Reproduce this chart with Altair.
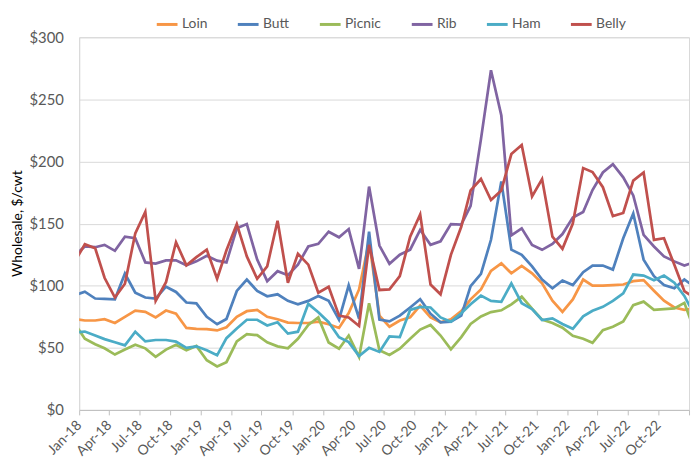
import altair as alt
import pandas as pd

# Monthly observations, Dec-17 .. Jan-23 (first and last are clipped at the axis ends)
months = (pd.date_range("2017-12-01", periods=62, freq="MS") + pd.Timedelta(days=17)).strftime("%Y-%m-%d").tolist()

series_names = ["Loin", "Butt", "Picnic", "Rib", "Ham", "Belly"]
series_colors = ["#F79646", "#4F81BD", "#9BBB59", "#8064A2", "#4BACC6", "#C0504D"]

loin = [73.4,
        72, 72, 73, 70, 75, 80, 79, 74.5, 80, 77.5,
        66, 65.3, 65, 64, 66.6, 75, 79.5, 80.5, 75, 73,
        70.3, 70, 70, 71, 69, 66, 78, 97, 136, 76,
        67, 72, 74.5, 84, 74.5, 70.6, 73, 79.5, 89, 97,
        112, 118, 110, 116, 110, 102, 88, 79, 89, 105,
        100, 100, 100.5, 101, 103.7, 104.5, 96, 88, 82.5, 80.6,
        81.5]
butt = [92.3,
        95.2, 89.7, 89.4, 89.1, 109.8, 94.4, 90.5, 89.7, 99.2, 95,
        86.5, 85.8, 75, 69, 73.2, 95.8, 105, 95.8, 91.5, 93.1,
        87.8, 85.1, 87.8, 91.8, 87.8, 72.7, 100.3, 73.5, 143.5, 72.7,
        71.3, 75.9, 82.5, 89.1, 77.5, 70.6, 71.1, 75.9, 99.7, 109.5,
        137, 184, 129, 124.9, 115.6, 105, 97.9, 104.2, 100.5, 110.9,
        116.2, 116.2, 113, 138.2, 158.1, 121, 107.7, 100.5, 97.9, 105,
        99]
picnic = [69.8,
          57.3, 52.9, 49.6, 44.6, 48.6, 52.5, 49.6, 42.7, 48.6, 52.5,
          48, 51.5, 40, 35, 38.5, 55.2, 61, 60.2, 54.4, 51.2,
          49.6, 57.3, 68.5, 74.5, 54.3, 49.3, 59.9, 42.7, 85.9, 48,
          44.3, 49.3, 57.3, 64.7, 68.4, 59.9, 48.8, 58.6, 69.2, 75.3,
          78.8, 80.2, 85, 91.2, 81.5, 72.7, 70, 66.2, 59.7, 57.3,
          54, 64.2, 67, 71.2, 84.4, 87.2, 80.6, 81.2, 81.7, 86.2,
          63.5]
rib = [124.3,
       131.6, 131, 132.9, 128.1, 139.5, 138.2, 118.8, 117.8, 120.4, 120.4,
       116.5, 119.6, 124.1, 120.2, 118.8, 146.2, 149.6, 121, 103.7, 111.7,
       108.5, 117, 131.6, 133.7, 143.5, 139, 145.6, 113.6, 179.8, 132.3,
       117.7, 125, 129, 145, 132.9, 135.8, 149.6, 149.3, 164.3, 218,
       273.5, 237, 140.5, 146.2, 132.9, 128.9, 133.7, 141.6, 154.9, 159.4,
       177, 191.2, 197.9, 187.3, 172.7, 140.9, 131.6, 123.6, 119.6, 116.2,
       119.2]
ham = [62.2,
       63.1, 59.9, 57, 54.5, 52, 63, 55.2, 56.3, 56.3, 55,
       50, 51.2, 48, 44, 57.8, 65.6, 72.6, 72.6, 68, 70.6,
       61.5, 63, 85.4, 78.7, 70.6, 58.6, 54.6, 43.3, 50, 46.7,
       59.2, 58.6, 80.5, 83, 82.5, 74.5, 71, 77.8, 85.1, 92,
       87.8, 87, 101.9, 85.9, 81.2, 72.4, 73.7, 69.2, 65.3, 75.3,
       79.8, 83, 87.8, 93.9, 109, 108.2, 104.5, 108.2, 102.4, 91.8,
       76]
belly = [119,
         133.4, 130.2, 106.4, 90.5, 101.6, 142.2, 159.4, 87.8, 102.9, 135,
         116.5, 123, 129, 105.6, 128.5, 149.6, 123.6, 105.6, 115.6, 152.3,
         102.4, 125.7, 117, 94.4, 99.2, 75.9, 74.5, 67.6, 132.9, 96.6,
         97.1, 107.7, 139.5, 157.3, 101, 93.1, 124.9, 147.5, 176.7, 185.9,
         169, 176.7, 206, 213.3, 171.9, 185.9, 139.5, 129.7, 150.1, 194.7,
         191.5, 179.3, 156, 158.6, 184.6, 191.2, 136.9, 138.2, 116.9, 95.7,
         90.2]

y_ticks = [0, 50, 100, 150, 200, 250, 300]

values = {"Loin": loin, "Butt": butt, "Picnic": picnic, "Rib": rib, "Ham": ham, "Belly": belly}
rows = []
for name in series_names:
    for d, v in zip(months, values[name]):
        rows.append({"date": d, "series": name, "value": v})
df = pd.DataFrame(rows)

def ms(s):
    return int(pd.Timestamp(s, tz="UTC").value // 10**6)

end_ms = ms("2023-01-01")
x_domain = [ms("2018-01-01"), end_ms]
tick_vals = [ms(d) for d in pd.date_range("2018-01-01", "2023-01-01", freq="3MS").strftime("%Y-%m-%d")]

FONT = "Lato"
GREY = "#595959"

chart = alt.Chart(df).mark_line(clip=True, strokeWidth=2.75).encode(
    x=alt.X("date:T",
            scale=alt.Scale(type="utc", domain=x_domain),
            axis=alt.Axis(values=tick_vals,
                          labelExpr=f"datum.value >= {end_ms} ? '' : utcFormat(datum.value, '%b-%y')",
                          labelAngle=-45, labelAlign="right", labelBaseline="middle",
                          grid=False, title=None, tickSize=5, tickColor="#bfbfbf",
                          domainColor="#bfbfbf", labelFont=FONT, labelFontSize=14,
                          labelColor=GREY, labelPadding=8, labelOverlap=False)),
    y=alt.Y("value:Q",
            scale=alt.Scale(domain=[0, 300], nice=False, zero=True),
            axis=alt.Axis(values=y_ticks, labelExpr="'$' + datum.value",
                          title="Wholesale, $/cwt", titleFont=FONT, titleFontSize=14,
                          titleFontWeight="normal", titleColor="#000000",
                          titleAngle=-90, titleX=-62, titleY=188, titleAlign="center",
                          titleBaseline="middle",
                          grid=True, gridColor="#d9d9d9", ticks=False,
                          domainColor="#d9d9d9", labelFont=FONT, labelFontSize=15,
                          labelColor=GREY, labelPadding=16)),
    color=alt.Color("series:N",
                    scale=alt.Scale(domain=series_names, range=series_colors),
                    sort=series_names,
                    legend=alt.Legend(orient="none", direction="horizontal", title=None,
                                      legendX=77, legendY=-25,
                                      symbolType="stroke", symbolSize=441,
                                      symbolStrokeWidth=3, columnPadding=24,
                                      labelOffset=3, labelFont=FONT, labelFontSize=14,
                                      labelColor=GREY)),
).properties(
    width=617, height=377,
    autosize=alt.AutoSizeParams(type="none"),
    padding={"left": 72, "top": 27, "right": 3, "bottom": 48},
).configure_view(stroke="#d9d9d9", strokeWidth=1)

chart.save("out.html", embed_options={"renderer": "svg", "actions": False})
